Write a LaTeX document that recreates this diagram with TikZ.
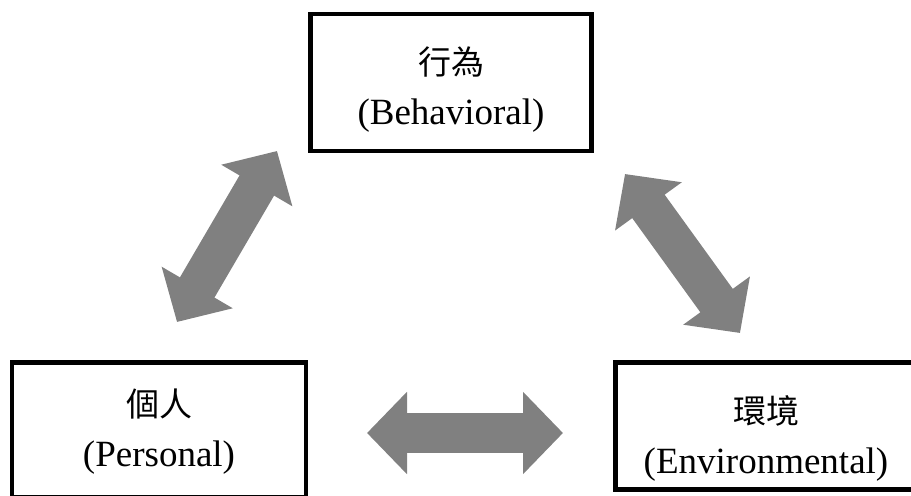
\documentclass[tikz,border=0pt]{standalone}
\usepackage{fontspec}
\setmainfont{Liberation Serif}
\newfontfamily\cjk{Noto Sans CJK TC}
\usetikzlibrary{arrows.meta}
\definecolor{arrowgray}{RGB}{128,128,128}

\tikzset{
  factorbox/.style={draw, line width=2.25pt, rectangle, inner sep=0pt},
  factortext/.style={align=center, inner sep=0pt,
    font=\fontsize{18.5pt}{25pt}\selectfont},
  twoway/.style={arrowgray, line width=20pt,
    {Triangle[length=20pt, width=40pt]}-{Triangle[length=20pt, width=40pt]}}
}
\newcommand{\zh}[1]{{\cjk\fontsize{16.5pt}{25pt}\selectfont #1}}

\begin{document}
\begin{tikzpicture}[x=0.5pt, y=-0.5pt]
  \useasboundingbox (0,0) rectangle (911,496);
  \clip (0,0) rectangle (911,496);

  % the three factors
  \node[factorbox, minimum width=140.5pt, minimum height=68.5pt] (beh) at (451,82.5) {};
  \node[factorbox, minimum width=147pt, minimum height=67.5pt] (per) at (159,430) {};
  \node[factorbox, minimum width=150.5pt, minimum height=63.5pt] (env) at (766,426) {};

  \node[factortext] (behtext) at (451,90) {\zh{行為}\\(Behavioral)};
  \node[factortext] (pertext) at (159,431.5) {\zh{個人}\\(Personal)};
  \node[factortext] (envtext) at (766,438) {\zh{環境}\\(Environmental)};

  % arrow ends
  \coordinate (pb1) at (177,322);
  \coordinate (pb2) at (277,151);
  \coordinate (be1) at (625,174);
  \coordinate (be2) at (740,333);
  \coordinate (pe1) at (367,433);
  \coordinate (pe2) at (563,433);

  % two-way influences
  \draw[twoway] (pb1) -- (pb2);
  \draw[twoway] (be1) -- (be2);
  \draw[twoway] (pe1) -- (pe2);
\end{tikzpicture}
\end{document}
